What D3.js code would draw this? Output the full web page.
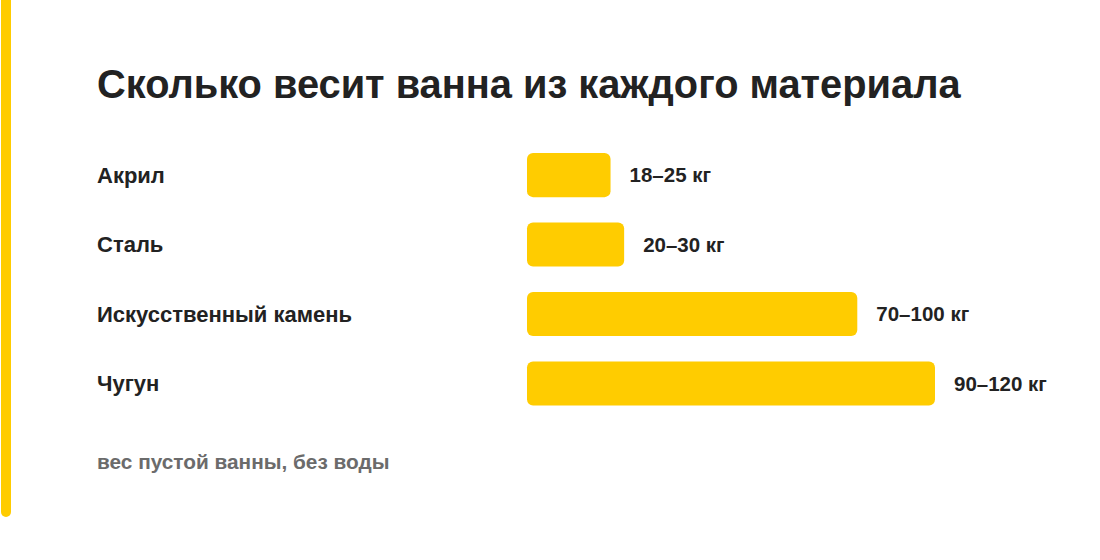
<!DOCTYPE html>
<html>
<head>
<meta charset="utf-8">
<script src="https://cdn.jsdelivr.net/npm/d3@7"></script>
<style>
  html, body { margin: 0; padding: 0; background: #ffffff; }
  svg { display: block; }
  text { font-family: "Liberation Sans", Arial, Helvetica, sans-serif; }
</style>
</head>
<body>
<svg id="chart" width="1100" height="560"></svg>
<script>
// ---- Data ----
const title = "Сколько весит ванна из каждого материала";
const note = "вес пустой ванны, без воды";
const categories = ["Акрил", "Сталь", "Искусственный камень", "Чугун"];
const minWeights = [18, 20, 70, 90];
const maxWeights = [25, 30, 100, 120];
const unit = "кг";

// ---- Layout ----
const W = 1100, H = 560;
const yellow = "#FFCC00";
const dark = "#222222";
const svg = d3.select("#chart");

svg.append("rect").attr("width", W).attr("height", H).attr("fill", "#fff");

// decorative left stripe
svg.append("rect")
  .attr("x", 1).attr("y", -6).attr("width", 10).attr("height", 523)
  .attr("rx", 5).attr("fill", yellow);

svg.append("text")
  .attr("x", 97).attr("y", 98)
  .attr("font-size", 39.8).attr("font-weight", 700).attr("fill", dark)
  .text(title);

const data = categories.map((c, i) => ({
  cat: c, lo: minWeights[i], hi: maxWeights[i], mid: (minWeights[i] + maxWeights[i]) / 2
}));

const x = d3.scaleLinear()
  .domain([0, d3.max(data, d => d.mid)])
  .range([527, 935]);

const y = d3.scaleBand()
  .domain(categories)
  .range([153, 405.6])
  .paddingInner(0.365)
  .paddingOuter(0);

const rows = svg.append("g").selectAll("g").data(data).join("g");

rows.append("text")
  .attr("x", 97)
  .attr("y", d => y(d.cat) + y.bandwidth() / 2)
  .attr("dy", "0.35em")
  .attr("font-size", 22).attr("font-weight", 700).attr("fill", dark)
  .text(d => d.cat);

rows.append("rect")
  .attr("x", x(0))
  .attr("y", d => y(d.cat))
  .attr("width", d => x(d.mid) - x(0))
  .attr("height", y.bandwidth())
  .attr("rx", 6).attr("fill", yellow);

rows.append("text")
  .attr("x", d => x(d.mid) + 19)
  .attr("y", d => y(d.cat) + y.bandwidth() / 2)
  .attr("dy", "0.35em")
  .attr("font-size", 20.5).attr("font-weight", 700).attr("fill", dark)
  .text(d => `${d.lo}–${d.hi} ${unit}`);

svg.append("text")
  .attr("x", 97).attr("y", 469)
  .attr("font-size", 20.8).attr("font-weight", 700).attr("fill", "#6b6b6b")
  .text(note);
</script>
</body>
</html>
